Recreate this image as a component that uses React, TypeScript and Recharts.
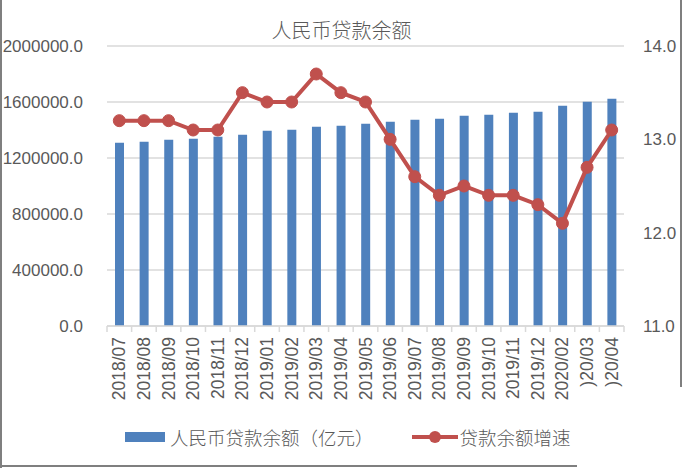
import React from 'react';
import {
  ComposedChart,
  Bar,
  Line,
  XAxis,
  YAxis,
  CartesianGrid,
} from 'recharts';

const months = [
  '2018/07', '2018/08', '2018/09', '2018/10', '2018/11', '2018/12',
  '2019/01', '2019/02', '2019/03', '2019/04', '2019/05', '2019/06',
  '2019/07', '2019/08', '2019/09', '2019/10', '2019/11', '2019/12',
  '2020/02', '2020/03', '2020/04',
];

const loanBalance = [
  1309500, 1316700, 1331000, 1338000, 1352000, 1366000,
  1395000, 1402000, 1424000, 1431000, 1445000, 1459000,
  1474000, 1481000, 1502000, 1509000, 1524000, 1531000,
  1574000, 1602000, 1624000,
];

const loanGrowth = [
  13.2, 13.2, 13.2, 13.1, 13.1, 13.5,
  13.4, 13.4, 13.7, 13.5, 13.4, 13.0,
  12.6, 12.4, 12.5, 12.4, 12.4, 12.3,
  12.1, 12.7, 13.1,
];

const leftTicks = [0, 400000, 800000, 1200000, 1600000, 2000000];
const rightTicks = [11, 12, 13, 14];

const BAR_COLOR = '#4f81bd';
const LINE_COLOR = '#c0504d';
const TEXT_COLOR = '#595959';
const GRID_COLOR = '#d9d9d9';
const NUM_FONT = "'Liberation Sans', Arial, sans-serif";
const CJK_FONT = "'Noto Sans CJK SC', sans-serif";

const chartData = months.map((m, i) => ({
  month: m,
  balance: loanBalance[i],
  growth: loanGrowth[i],
}));

// category width = plot width / number of months
const BAND = (624 - 107) / months.length;

function MonthTick(props: any) {
  const { x, y, payload, index } = props;
  // the last two labels are clipped on the left in the original
  const label = index >= months.length - 2 ? ')' + payload.value.slice(2) : payload.value;
  return (
    <g>
      <line x1={x - BAND / 2} y1={y} x2={x - BAND / 2} y2={y + 6} stroke={GRID_COLOR} strokeWidth={1.5} />
      {index === months.length - 1 && (
        <line x1={x + BAND / 2} y1={y} x2={x + BAND / 2} y2={y + 6} stroke={GRID_COLOR} strokeWidth={1.5} />
      )}
      <text
        x={x}
        y={y + 11}
        transform={`rotate(-90, ${x}, ${y + 11})`}
        textAnchor="end"
        dominantBaseline="central"
        fill={TEXT_COLOR}
        fontSize={17.5}
        fontFamily={NUM_FONT}
      >
        {label}
      </text>
    </g>
  );
}

export default function App() {
  return (
    <div
      style={{
        position: 'absolute',
        left: 0,
        top: 0,
        width: 683,
        height: 468,
        background: '#fff',
        overflow: 'hidden',
      }}
    >
      <div style={{ position: 'absolute', left: 0, top: 0, width: 2, height: 468, background: '#7f7f7f' }} />
      <div style={{ position: 'absolute', left: 680, top: 0, width: 2, height: 387, background: '#7f7f7f' }} />
      <div style={{ position: 'absolute', left: 0, top: 465, width: 577, height: 2, background: '#7f7f7f' }} />

      <div
        style={{
          position: 'absolute',
          left: 0,
          top: 16,
          width: 683,
          textAlign: 'center',
          fontFamily: CJK_FONT,
          fontSize: 20,
          fontWeight: 300,
          color: TEXT_COLOR,
          lineHeight: '28px',
        }}
      >
        人民币贷款余额
      </div>

      <div style={{ position: 'absolute', left: 0, top: 0 }}>
        <ComposedChart
          width={683}
          height={468}
          data={chartData}
          margin={{ top: 46, right: 0, left: 0, bottom: 42 }}
        >
          <CartesianGrid vertical={false} stroke={GRID_COLOR} strokeWidth={1.5} yAxisId="left" />
          <XAxis
            dataKey="month"
            interval={0}
            height={100}
            tickSize={0}
            tickMargin={0}
            axisLine={{ stroke: GRID_COLOR, strokeWidth: 1.5 }}
            tickLine={false}
            tick={<MonthTick />}
          />
          <YAxis
            yAxisId="left"
            orientation="left"
            width={107}
            domain={[0, 2000000]}
            ticks={leftTicks}
            axisLine={false}
            tickLine={false}
            tickSize={0}
            tickMargin={24}
            tickFormatter={(v: number) => v.toFixed(1)}
            tick={{ fill: TEXT_COLOR, fontSize: 17, fontFamily: NUM_FONT }}
          />
          <YAxis
            yAxisId="right"
            orientation="right"
            width={59}
            domain={[11, 14]}
            ticks={rightTicks}
            axisLine={false}
            tickLine={false}
            tickSize={0}
            tickMargin={19}
            tickFormatter={(v: number) => v.toFixed(1)}
            tick={{ fill: TEXT_COLOR, fontSize: 17, fontFamily: NUM_FONT }}
          />
          <Bar
            yAxisId="left"
            dataKey="balance"
            fill={BAR_COLOR}
            barSize={9}
            isAnimationActive={false}
          />
          <Line
            yAxisId="right"
            dataKey="growth"
            type="linear"
            stroke={LINE_COLOR}
            strokeWidth={4}
            dot={{ r: 6, fill: LINE_COLOR, stroke: LINE_COLOR, strokeWidth: 1 }}
            activeDot={false}
            isAnimationActive={false}
          />
        </ComposedChart>
      </div>

      <div
        style={{
          position: 'absolute',
          left: 125,
          top: 424,
          height: 26,
          display: 'flex',
          alignItems: 'center',
          fontFamily: CJK_FONT,
          fontSize: 18.5,
          fontWeight: 300,
          color: TEXT_COLOR,
          whiteSpace: 'nowrap',
        }}
      >
        <span style={{ display: 'inline-block', width: 40, height: 10, background: BAR_COLOR, marginRight: 5 }} />
        <span>人民币贷款余额（亿元）</span>
        <svg width={46} height={14} style={{ marginLeft: 38, marginRight: 2 }}>
          <line x1={0} y1={7} x2={46} y2={7} stroke={LINE_COLOR} strokeWidth={4} />
          <circle cx={23} cy={7} r={6} fill={LINE_COLOR} />
        </svg>
        <span>贷款余额增速</span>
      </div>
    </div>
  );
}
